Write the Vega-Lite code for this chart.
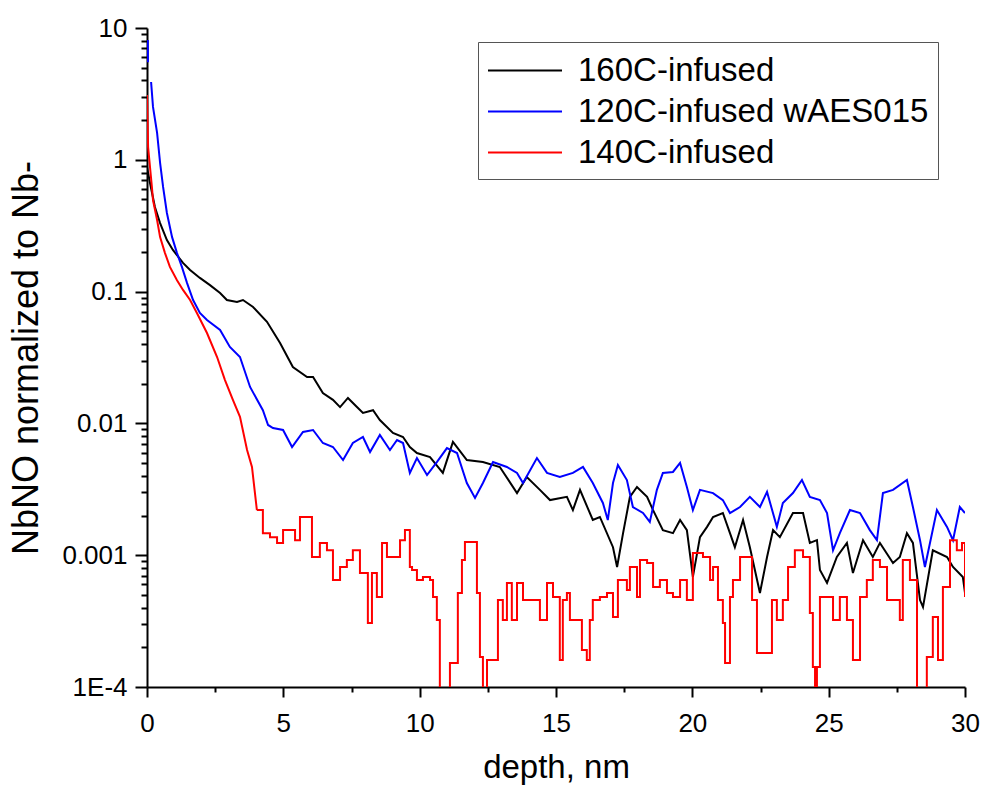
{
"$schema": "https://vega.github.io/schema/vega-lite/v6.json",
"width": 818, "height": 659,
"autosize": {"type": "none"},
"padding": {"left": 147, "top": 28, "right": 17, "bottom": 101},
"background": "white",
"config": {"view": {"stroke": null}, "font": "Liberation Sans"},
"data": {"values": [
{"s":"160C-infused","x":0,"y":0.882},{"s":"160C-infused","x":0.11,"y":0.667},{"s":"160C-infused","x":0.29,"y":0.438},{"s":"160C-infused","x":0.48,"y":0.331},{"s":"160C-infused","x":0.73,"y":0.246},{"s":"160C-infused","x":0.95,"y":0.207},{"s":"160C-infused","x":1.32,"y":0.165},{"s":"160C-infused","x":1.58,"y":0.146},{"s":"160C-infused","x":1.94,"y":0.127},{"s":"160C-infused","x":2.31,"y":0.112},{"s":"160C-infused","x":2.68,"y":0.0976},{"s":"160C-infused","x":2.93,"y":0.0863},{"s":"160C-infused","x":3.3,"y":0.0833},{"s":"160C-infused","x":3.52,"y":0.0863},{"s":"160C-infused","x":3.89,"y":0.0764},{"s":"160C-infused","x":4.4,"y":0.059},{"s":"160C-infused","x":4.88,"y":0.0407},{"s":"160C-infused","x":5.35,"y":0.0268},{"s":"160C-infused","x":5.87,"y":0.0225},{"s":"160C-infused","x":6.09,"y":0.0225},{"s":"160C-infused","x":6.45,"y":0.017},{"s":"160C-infused","x":6.82,"y":0.0151},{"s":"160C-infused","x":7.08,"y":0.0133},{"s":"160C-infused","x":7.37,"y":0.0156},{"s":"160C-infused","x":7.7,"y":0.0133},{"s":"160C-infused","x":7.92,"y":0.012},{"s":"160C-infused","x":8.29,"y":0.0126},{"s":"160C-infused","x":8.54,"y":0.0106},{"s":"160C-infused","x":9.02,"y":0.00846},{"s":"160C-infused","x":9.39,"y":0.00789},{"s":"160C-infused","x":9.64,"y":0.00662},{"s":"160C-infused","x":9.9,"y":0.00596},{"s":"160C-infused","x":10.38,"y":0.00556},{"s":"160C-infused","x":10.85,"y":0.00421},{"s":"160C-infused","x":11.22,"y":0.00723},{"s":"160C-infused","x":11.73,"y":0.00527},{"s":"160C-infused","x":12.32,"y":0.00509},{"s":"160C-infused","x":12.94,"y":0.00467},{"s":"160C-infused","x":13.57,"y":0.00296},{"s":"160C-infused","x":13.93,"y":0.00392},{"s":"160C-infused","x":14.41,"y":0.00313},{"s":"160C-infused","x":14.78,"y":0.00262},{"s":"160C-infused","x":15.4,"y":0.00277},{"s":"160C-infused","x":15.62,"y":0.0022},{"s":"160C-infused","x":15.88,"y":0.00313},{"s":"160C-infused","x":16.35,"y":0.00185},{"s":"160C-infused","x":16.61,"y":0.00195},{"s":"160C-infused","x":17.09,"y":0.00115},{"s":"160C-infused","x":17.24,"y":0.000814},{"s":"160C-infused","x":17.46,"y":0.00147},{"s":"160C-infused","x":17.71,"y":0.00277},{"s":"160C-infused","x":17.97,"y":0.00329},{"s":"160C-infused","x":18.34,"y":0.00277},{"s":"160C-infused","x":18.56,"y":0.0022},{"s":"160C-infused","x":18.92,"y":0.00155},{"s":"160C-infused","x":19.29,"y":0.00147},{"s":"160C-infused","x":19.55,"y":0.00185},{"s":"160C-infused","x":19.8,"y":0.00155},{"s":"160C-infused","x":20.02,"y":0.000684},{"s":"160C-infused","x":20.28,"y":0.00137},{"s":"160C-infused","x":20.54,"y":0.00164},{"s":"160C-infused","x":20.76,"y":0.00195},{"s":"160C-infused","x":21.12,"y":0.00209},{"s":"160C-infused","x":21.38,"y":0.00147},{"s":"160C-infused","x":21.56,"y":0.00115},{"s":"160C-infused","x":21.86,"y":0.00185},{"s":"160C-infused","x":22.11,"y":0.00115},{"s":"160C-infused","x":22.48,"y":0.000517},{"s":"160C-infused","x":22.74,"y":0.000969},{"s":"160C-infused","x":22.96,"y":0.00155},{"s":"160C-infused","x":23.21,"y":0.00137},{"s":"160C-infused","x":23.69,"y":0.00209},{"s":"160C-infused","x":24.06,"y":0.00209},{"s":"160C-infused","x":24.31,"y":0.00124},{"s":"160C-infused","x":24.57,"y":0.0013},{"s":"160C-infused","x":24.68,"y":0.000772},{"s":"160C-infused","x":24.94,"y":0.000616},{"s":"160C-infused","x":25.3,"y":0.000969},{"s":"160C-infused","x":25.67,"y":0.00124},{"s":"160C-infused","x":25.89,"y":0.000733},{"s":"160C-infused","x":26.26,"y":0.0013},{"s":"160C-infused","x":26.62,"y":0.000969},{"s":"160C-infused","x":26.88,"y":0.00124},{"s":"160C-infused","x":27.36,"y":0.000873},{"s":"160C-infused","x":27.61,"y":0.000969},{"s":"160C-infused","x":27.87,"y":0.00147},{"s":"160C-infused","x":28.09,"y":0.00124},{"s":"160C-infused","x":28.35,"y":0.000457},{"s":"160C-infused","x":28.46,"y":0.000404},{"s":"160C-infused","x":28.82,"y":0.00109},{"s":"160C-infused","x":29.34,"y":0.000969},{"s":"160C-infused","x":29.56,"y":0.000814},{"s":"160C-infused","x":29.92,"y":0.000684},{"s":"160C-infused","x":30,"y":0.000517},
{"s":"120C-infused wAES015","x":0.03,"y":8.1},{"s":"120C-infused wAES015","x":0.035,"y":5.5},{"s":"120C-infused wAES015","x":0.08,"y":null},{"s":"120C-infused wAES015","x":0.15,"y":3.89},{"s":"120C-infused wAES015","x":0.22,"y":2.52},{"s":"120C-infused wAES015","x":0.37,"y":1.6},{"s":"120C-infused wAES015","x":0.48,"y":0.949},{"s":"120C-infused wAES015","x":0.59,"y":0.622},{"s":"120C-infused wAES015","x":0.73,"y":0.395},{"s":"120C-infused wAES015","x":0.92,"y":0.259},{"s":"120C-infused wAES015","x":1.1,"y":0.196},{"s":"120C-infused wAES015","x":1.28,"y":0.154},{"s":"120C-infused wAES015","x":1.47,"y":0.116},{"s":"120C-infused wAES015","x":1.69,"y":0.0863},{"s":"120C-infused wAES015","x":1.94,"y":0.0689},{"s":"120C-infused wAES015","x":2.2,"y":0.0609},{"s":"120C-infused wAES015","x":2.68,"y":0.0512},{"s":"120C-infused wAES015","x":3.04,"y":0.038},{"s":"120C-infused wAES015","x":3.41,"y":0.0319},{"s":"120C-infused wAES015","x":3.78,"y":0.0189},{"s":"120C-infused wAES015","x":4.25,"y":0.0126},{"s":"120C-infused wAES015","x":4.44,"y":0.00973},{"s":"120C-infused wAES015","x":4.62,"y":0.00923},{"s":"120C-infused wAES015","x":4.99,"y":0.00891},{"s":"120C-infused wAES015","x":5.32,"y":0.00662},{"s":"120C-infused wAES015","x":5.72,"y":0.00861},{"s":"120C-infused wAES015","x":6.09,"y":0.00891},{"s":"120C-infused wAES015","x":6.45,"y":0.0071},{"s":"120C-infused wAES015","x":6.82,"y":0.00662},{"s":"120C-infused wAES015","x":7.19,"y":0.00527},{"s":"120C-infused wAES015","x":7.55,"y":0.0071},{"s":"120C-infused wAES015","x":7.92,"y":0.00789},{"s":"120C-infused wAES015","x":8.18,"y":0.00607},{"s":"120C-infused wAES015","x":8.54,"y":0.00817},{"s":"120C-infused wAES015","x":8.91,"y":0.00628},{"s":"120C-infused wAES015","x":9.17,"y":0.00748},{"s":"120C-infused wAES015","x":9.39,"y":0.0071},{"s":"120C-infused wAES015","x":9.64,"y":0.00421},{"s":"120C-infused wAES015","x":9.9,"y":0.00546},{"s":"120C-infused wAES015","x":10.27,"y":0.00406},{"s":"120C-infused wAES015","x":10.63,"y":0.00509},{"s":"120C-infused wAES015","x":11,"y":0.0065},{"s":"120C-infused wAES015","x":11.37,"y":0.00596},{"s":"120C-infused wAES015","x":11.73,"y":0.00353},{"s":"120C-infused wAES015","x":12.03,"y":0.00272},{"s":"120C-infused wAES015","x":12.32,"y":0.00353},{"s":"120C-infused wAES015","x":12.69,"y":0.00509},{"s":"120C-infused wAES015","x":13.2,"y":0.00467},{"s":"120C-infused wAES015","x":13.57,"y":0.00421},{"s":"120C-infused wAES015","x":13.79,"y":0.00353},{"s":"120C-infused wAES015","x":14.3,"y":0.00546},{"s":"120C-infused wAES015","x":14.67,"y":0.00421},{"s":"120C-infused wAES015","x":15.14,"y":0.00392},{"s":"120C-infused wAES015","x":15.62,"y":0.00421},{"s":"120C-infused wAES015","x":15.99,"y":0.00467},{"s":"120C-infused wAES015","x":16.35,"y":0.00353},{"s":"120C-infused wAES015","x":16.72,"y":0.00249},{"s":"120C-infused wAES015","x":16.9,"y":0.00185},{"s":"120C-infused wAES015","x":17.09,"y":0.00353},{"s":"120C-infused wAES015","x":17.27,"y":0.00483},{"s":"120C-infused wAES015","x":17.6,"y":0.00372},{"s":"120C-infused wAES015","x":17.82,"y":0.00232},{"s":"120C-infused wAES015","x":18.19,"y":0.00209},{"s":"120C-infused wAES015","x":18.44,"y":0.00179},{"s":"120C-infused wAES015","x":18.7,"y":0.00313},{"s":"120C-infused wAES015","x":18.92,"y":0.00421},{"s":"120C-infused wAES015","x":19.29,"y":0.00428},{"s":"120C-infused wAES015","x":19.55,"y":0.00501},{"s":"120C-infused wAES015","x":19.8,"y":0.00329},{"s":"120C-infused wAES015","x":20.02,"y":0.0022},{"s":"120C-infused wAES015","x":20.28,"y":0.00313},{"s":"120C-infused wAES015","x":20.76,"y":0.00296},{"s":"120C-infused wAES015","x":21.12,"y":0.00262},{"s":"120C-infused wAES015","x":21.38,"y":0.00209},{"s":"120C-infused wAES015","x":21.75,"y":0.00232},{"s":"120C-infused wAES015","x":22.11,"y":0.00277},{"s":"120C-infused wAES015","x":22.48,"y":0.00232},{"s":"120C-infused wAES015","x":22.74,"y":0.00302},{"s":"120C-infused wAES015","x":23.1,"y":0.00164},{"s":"120C-infused wAES015","x":23.32,"y":0.00249},{"s":"120C-infused wAES015","x":23.69,"y":0.00296},{"s":"120C-infused wAES015","x":24.02,"y":0.00372},{"s":"120C-infused wAES015","x":24.31,"y":0.00277},{"s":"120C-infused wAES015","x":24.68,"y":0.00262},{"s":"120C-infused wAES015","x":24.94,"y":0.00209},{"s":"120C-infused wAES015","x":25.16,"y":0.00109},{"s":"120C-infused wAES015","x":25.41,"y":0.00147},{"s":"120C-infused wAES015","x":25.78,"y":0.0022},{"s":"120C-infused wAES015","x":26.15,"y":0.00209},{"s":"120C-infused wAES015","x":26.51,"y":0.00155},{"s":"120C-infused wAES015","x":26.77,"y":0.0013},{"s":"120C-infused wAES015","x":26.99,"y":0.00296},{"s":"120C-infused wAES015","x":27.36,"y":0.00313},{"s":"120C-infused wAES015","x":27.87,"y":0.00372},{"s":"120C-infused wAES015","x":28.09,"y":0.00232},{"s":"120C-infused wAES015","x":28.35,"y":0.0013},{"s":"120C-infused wAES015","x":28.53,"y":0.000814},{"s":"120C-infused wAES015","x":28.97,"y":0.0022},{"s":"120C-infused wAES015","x":29.34,"y":0.00164},{"s":"120C-infused wAES015","x":29.56,"y":0.0013},{"s":"120C-infused wAES015","x":29.81,"y":0.00232},{"s":"120C-infused wAES015","x":30,"y":0.00209},
{"s":"140C-infused","x":0,"y":3.1},{"s":"140C-infused","x":0.02,"y":2.0},{"s":"140C-infused","x":0.04,"y":1.25},{"s":"140C-infused","x":0.11,"y":0.882},{"s":"140C-infused","x":0.18,"y":0.622},{"s":"140C-infused","x":0.22,"y":0.495},{"s":"140C-infused","x":0.37,"y":0.349},{"s":"140C-infused","x":0.48,"y":0.259},{"s":"140C-infused","x":0.66,"y":0.196},{"s":"140C-infused","x":0.84,"y":0.154},{"s":"140C-infused","x":1.1,"y":0.122},{"s":"140C-infused","x":1.32,"y":0.103},{"s":"140C-infused","x":1.58,"y":0.0863},{"s":"140C-infused","x":1.83,"y":0.0689},{"s":"140C-infused","x":2.2,"y":0.0485},{"s":"140C-infused","x":2.57,"y":0.0319},{"s":"140C-infused","x":2.86,"y":0.0213},{"s":"140C-infused","x":3.15,"y":0.0151},{"s":"140C-infused","x":3.41,"y":0.0112},{"s":"140C-infused","x":3.67,"y":0.00628},{"s":"140C-infused","x":3.85,"y":0.00467},{"s":"140C-infused","x":4.03,"y":0.0022},
{"s":"140C-infused","x":4.25,"y":0.00147},{"s":"140C-infused","x":4.51,"y":0.00137},{"s":"140C-infused","x":4.77,"y":0.00124},{"s":"140C-infused","x":4.99,"y":0.00155},{"s":"140C-infused","x":5.43,"y":0.0013},{"s":"140C-infused","x":5.61,"y":0.00195},{"s":"140C-infused","x":6.05,"y":0.000969},{"s":"140C-infused","x":6.34,"y":0.00124},{"s":"140C-infused","x":6.6,"y":0.00109},{"s":"140C-infused","x":6.82,"y":0.000649},{"s":"140C-infused","x":7.08,"y":0.000814},{"s":"140C-infused","x":7.33,"y":0.00092},{"s":"140C-infused","x":7.55,"y":0.00109},{"s":"140C-infused","x":7.81,"y":0.000733},{"s":"140C-infused","x":8.1,"y":0.000306},{"s":"140C-infused","x":8.25,"y":0.000733},{"s":"140C-infused","x":8.43,"y":0.000482},{"s":"140C-infused","x":8.62,"y":0.00124},{"s":"140C-infused","x":8.8,"y":0.000969},{"s":"140C-infused","x":9.28,"y":0.0013},{"s":"140C-infused","x":9.46,"y":0.00155},{"s":"140C-infused","x":9.64,"y":0.000814},{"s":"140C-infused","x":9.72,"y":0.000772},{"s":"140C-infused","x":9.9,"y":0.000649},{"s":"140C-infused","x":10.12,"y":0.000684},{"s":"140C-infused","x":10.38,"y":0.000649},{"s":"140C-infused","x":10.49,"y":0.000482},{"s":"140C-infused","x":10.63,"y":0.000322},{"s":"140C-infused","x":10.74,"y":0.00008},{"s":"140C-infused","x":11.11,"y":0.000152},{"s":"140C-infused","x":11.4,"y":0.000517},{"s":"140C-infused","x":11.55,"y":0.00092},{"s":"140C-infused","x":11.66,"y":0.00126},{"s":"140C-infused","x":12.1,"y":0.000517},{"s":"140C-infused","x":12.21,"y":0.000169},{"s":"140C-infused","x":12.32,"y":0.00008},{"s":"140C-infused","x":12.47,"y":0.00016},{"s":"140C-infused","x":12.87,"y":0.000457},{"s":"140C-infused","x":13.05,"y":0.000322},{"s":"140C-infused","x":13.2,"y":0.000616},{"s":"140C-infused","x":13.38,"y":0.000322},{"s":"140C-infused","x":13.57,"y":0.000616},{"s":"140C-infused","x":13.79,"y":0.000457},{"s":"140C-infused","x":14.41,"y":0.000322},{"s":"140C-infused","x":14.67,"y":0.000616},{"s":"140C-infused","x":14.89,"y":0.000482},{"s":"140C-infused","x":15.14,"y":0.00016},{"s":"140C-infused","x":15.25,"y":0.000457},{"s":"140C-infused","x":15.4,"y":0.000517},{"s":"140C-infused","x":15.51,"y":0.000322},{"s":"140C-infused","x":15.95,"y":0.000191},{"s":"140C-infused","x":16.13,"y":0.00016},{"s":"140C-infused","x":16.24,"y":0.000322},{"s":"140C-infused","x":16.35,"y":0.000457},{"s":"140C-infused","x":16.61,"y":0.000482},{"s":"140C-infused","x":16.87,"y":0.000517},{"s":"140C-infused","x":17.09,"y":0.00034},{"s":"140C-infused","x":17.27,"y":0.000649},{"s":"140C-infused","x":17.6,"y":0.000545},{"s":"140C-infused","x":17.71,"y":0.000814},{"s":"140C-infused","x":17.97,"y":0.000482},{"s":"140C-infused","x":18.08,"y":0.00092},{"s":"140C-infused","x":18.34,"y":0.000873},{"s":"140C-infused","x":18.56,"y":0.000574},{"s":"140C-infused","x":18.81,"y":0.000649},{"s":"140C-infused","x":19.07,"y":0.000517},{"s":"140C-infused","x":19.29,"y":0.000482},{"s":"140C-infused","x":19.55,"y":0.000649},{"s":"140C-infused","x":19.8,"y":0.000457},{"s":"140C-infused","x":20.02,"y":0.00104},{"s":"140C-infused","x":20.39,"y":0.000969},{"s":"140C-infused","x":20.65,"y":0.000649},{"s":"140C-infused","x":20.76,"y":0.000814},{"s":"140C-infused","x":20.94,"y":0.000457},{"s":"140C-infused","x":21.12,"y":0.000306},{"s":"140C-infused","x":21.2,"y":0.000152},{"s":"140C-infused","x":21.38,"y":0.000482},{"s":"140C-infused","x":21.49,"y":0.000649},{"s":"140C-infused","x":21.75,"y":0.000969},{"s":"140C-infused","x":22.19,"y":0.000457},{"s":"140C-infused","x":22.37,"y":0.000181},{"s":"140C-infused","x":22.92,"y":0.000457},{"s":"140C-infused","x":23.1,"y":0.000322},{"s":"140C-infused","x":23.32,"y":0.000457},{"s":"140C-infused","x":23.51,"y":0.000814},{"s":"140C-infused","x":23.76,"y":0.00109},{"s":"140C-infused","x":24.06,"y":0.000969},{"s":"140C-infused","x":24.31,"y":0.000364},{"s":"140C-infused","x":24.42,"y":0.000142},{"s":"140C-infused","x":24.5,"y":0.00008},{"s":"140C-infused","x":24.57,"y":0.000142},{"s":"140C-infused","x":24.68,"y":0.000482},{"s":"140C-infused","x":25.16,"y":0.000322},{"s":"140C-infused","x":25.41,"y":0.000482},{"s":"140C-infused","x":25.67,"y":0.000322},{"s":"140C-infused","x":25.89,"y":0.00016},{"s":"140C-infused","x":26.15,"y":0.000482},{"s":"140C-infused","x":26.4,"y":0.000649},{"s":"140C-infused","x":26.62,"y":0.00092},{"s":"140C-infused","x":26.88,"y":0.000814},{"s":"140C-infused","x":27.14,"y":0.000457},{"s":"140C-infused","x":27.61,"y":0.000322},{"s":"140C-infused","x":27.72,"y":0.00092},{"s":"140C-infused","x":27.98,"y":0.000649},{"s":"140C-infused","x":28.24,"y":0.00008},{"s":"140C-infused","x":28.6,"y":0.000169},{"s":"140C-infused","x":28.82,"y":0.00034},{"s":"140C-infused","x":29.01,"y":0.00016},{"s":"140C-infused","x":29.19,"y":0.000574},{"s":"140C-infused","x":29.45,"y":0.0013},{"s":"140C-infused","x":29.7,"y":0.00109},{"s":"140C-infused","x":29.89,"y":0.00124},{"s":"140C-infused","x":30,"y":0.000482}
]},
"encoding": {
  "x": {"field": "x", "type": "quantitative",
    "scale": {"domain": [0, 30], "nice": false, "zero": false},
    "axis": {"title": "depth, nm", "values": [0,2.5,5,7.5,10,12.5,15,17.5,20,22.5,25,27.5,30],
      "labelExpr": "datum.value % 5 == 0 ? datum.label : ''",
      "tickSize": {"condition": {"test": "datum.value % 5 == 0", "value": 10}, "value": 5},
      "grid": false, "domainColor": "black", "domainWidth": 2, "tickColor": "black", "tickWidth": 2,
      "labelFontSize": 26, "labelColor": "black", "labelPadding": 13, "labelFlush": false, "labelOverlap": false,
      "titleFontSize": 33, "titleFontWeight": "normal", "titleColor": "black", "titlePadding": 15}},
  "y": {"field": "y", "type": "quantitative",
    "scale": {"type": "log", "domain": [0.0001, 10], "nice": false},
    "axis": {"title": "NbNO normalized to Nb-",
      "values": [0.0001,0.0002,0.0003,0.0004,0.0005,0.0006,0.0007,0.0008,0.0009,0.001,0.002,0.003,0.004,0.005,0.006,0.007,0.008,0.009,0.01,0.02,0.03,0.04,0.05,0.06,0.07,0.08,0.09,0.1,0.2,0.3,0.4,0.5,0.6,0.7,0.8,0.9,1,2,3,4,5,6,7,8,9,10],
      "labelExpr": "datum.value == 10 ? '10' : datum.value == 1 ? '1' : datum.value == 0.1 ? '0.1' : datum.value == 0.01 ? '0.01' : datum.value == 0.001 ? '0.001' : datum.value == 0.0001 ? '1E-4' : ''",
      "tickSize": {"condition": {"test": "datum.value == 10 || datum.value == 1 || datum.value == 0.1 || datum.value == 0.01 || datum.value == 0.001 || datum.value == 0.0001", "value": 12}, "value": 6},
      "grid": false, "domainColor": "black", "domainWidth": 2, "tickColor": "black", "tickWidth": 2,
      "labelFontSize": 26, "labelColor": "black", "labelPadding": 8, "labelOverlap": false, "labelFlush": false,
      "titleFontSize": 36, "titleFontWeight": "normal", "titleColor": "black", "titlePadding": 16}},
  "color": {"field": "s", "type": "nominal",
    "scale": {"domain": ["160C-infused", "120C-infused wAES015", "140C-infused"], "range": ["#000000", "#0000ff", "#ff0000"]},
    "legend": {"title": null, "orient": "none", "legendX": 331, "legendY": 14,
      "symbolType": "M-1,0L3,0", "symbolSize": 1369, "symbolStrokeWidth": 2, "symbolFillColor": "transparent",
      "labelFontSize": 33, "labelColor": "black", "labelOffset": 52, "labelLimit": 600,
      "strokeColor": "#555555", "fillColor": "white", "padding": 9, "rowPadding": 4}}
},
"layer": [
  {"transform": [{"filter": "datum.s != '140C-infused' || datum.x <= 4.03"}],
   "mark": {"type": "line", "strokeWidth": 2, "clip": true, "invalid": "break-paths-filter-domains"}},
  {"transform": [{"filter": "datum.s == '140C-infused' && datum.x >= 4.03"}],
   "mark": {"type": "line", "strokeWidth": 2, "clip": true, "interpolate": "step-after"}}
]
}
